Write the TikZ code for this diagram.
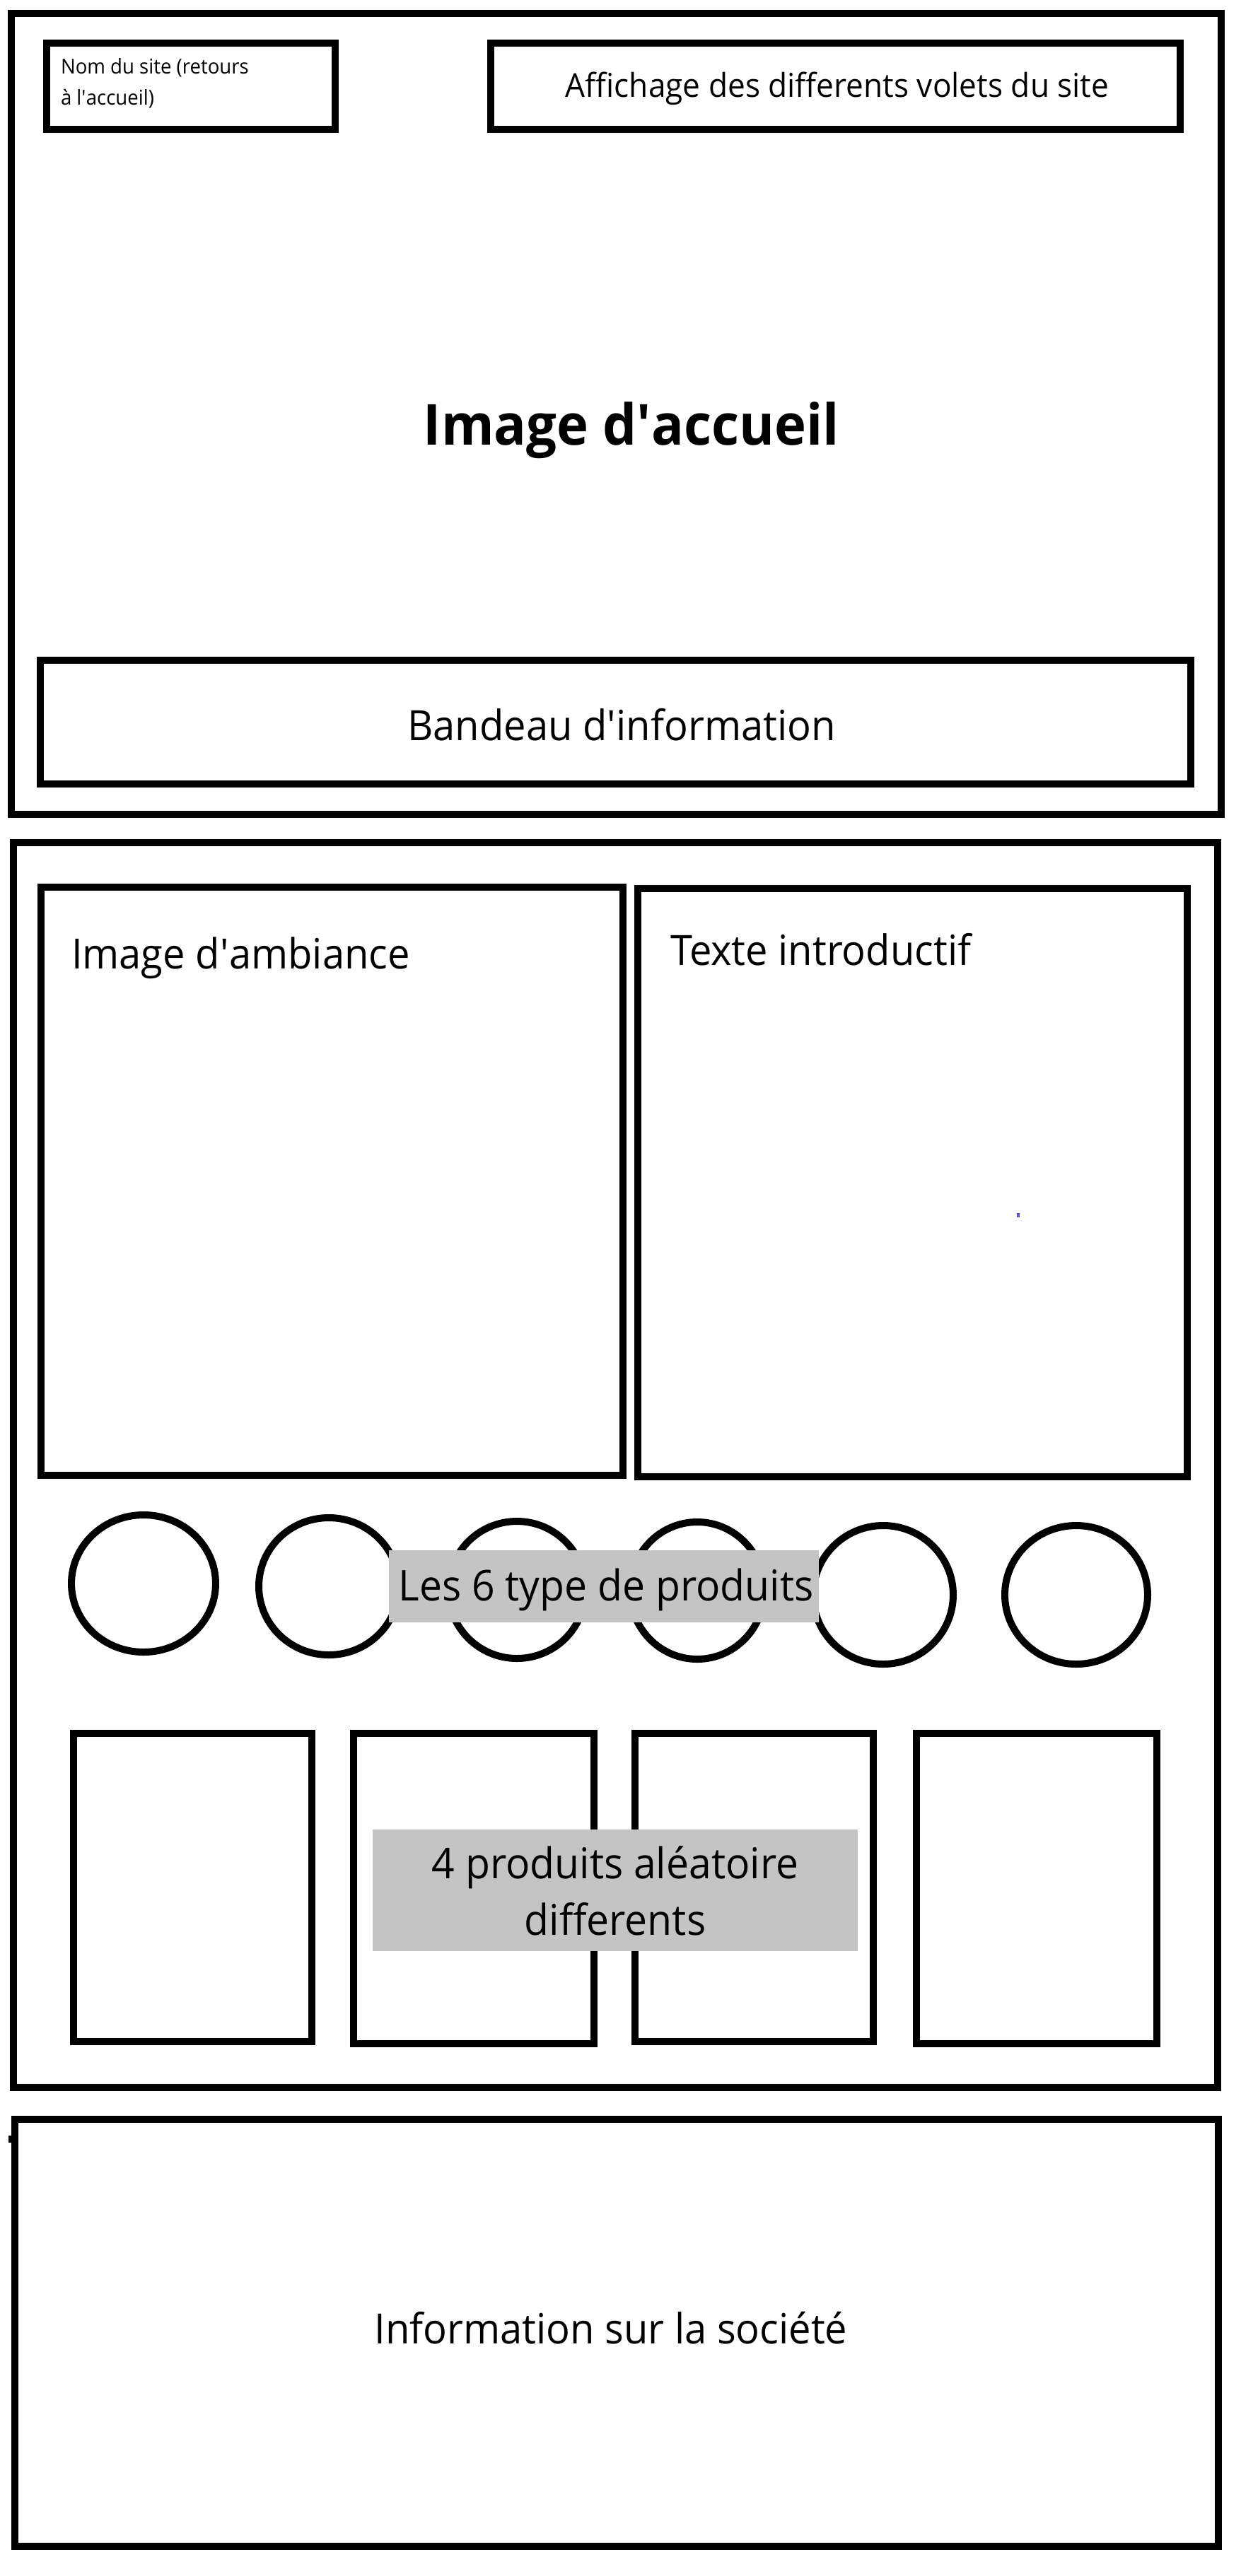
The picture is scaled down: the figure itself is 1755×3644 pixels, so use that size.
\documentclass[tikz,border=0pt]{standalone}
\usepackage{fontspec}
\setmainfont{Open Sans}[FakeStretch=0.95]
\usetikzlibrary{shapes.geometric}
\definecolor{labelgray}{HTML}{C4C4C4}
\definecolor{dotblue}{HTML}{5A5AD0}
% font size given in drawing units (1 unit = 0.01cm)
\newcommand{\pxfont}[2]{\fontsize{#1\dimexpr0.28453pt\relax}{#2\dimexpr0.28453pt\relax}\selectfont}
\newcommand{\q}{\textquotesingle}
\tikzset{
  wh/.style 2 args={minimum width=#1*0.01cm, minimum height=#2*0.01cm},
  frame/.style={draw=black, line width=0.1cm, fill=none, inner sep=0pt, outer sep=0pt, rectangle},
  disc/.style={draw=black, line width=0.1cm, ellipse, inner sep=0pt, outer sep=0pt},
  graylabel/.style={fill=labelgray, draw=none, inner sep=0pt, outer sep=0pt, rectangle},
  txt/.style={inner sep=0pt, outer sep=0pt, text=black},
}
\begin{document}
\begin{tikzpicture}[x=0.01cm, y=-0.01cm]
  \useasboundingbox[fill=white] (0,0) rectangle (1755,3644);

  % ---------- header ----------
  \node[frame, wh={1711}{1133}] (header) at (871.5,585.5) {};
  \node[frame, wh={408}{122}] (nom) at (270,122) {};
  \node[frame, wh={975}{122}] (menu) at (1181.5,122) {};
  \node[frame, wh={1627}{175}] (bandeau) at (870.5,1021.5) {};

  \node[txt, anchor=base west, align=left, font=\pxfont{29}{43}] (nomtxt) at (86,148)
    {Nom du site (retours\\à l\q accueil)};
  \node[txt, anchor=base, font=\pxfont{46.5}{56}] (menutxt) at (1184,137) {Affichage des differents volets du site};
  \node[txt, anchor=base, font=\pxfont{80}{96}\bfseries] (accueil) at (893,629) {Image d\q accueil};
  \node[txt, anchor=base, font=\pxfont{59}{70}] (bandeautxt) at (879,1047) {Bandeau d\q information};

  % ---------- main section ----------
  \node[frame, wh={1703}{1761}] (main) at (870.5,2072.5) {};
  \node[frame, wh={823}{832}] (ambiance) at (469.5,1671) {};
  \node[frame, wh={777}{832}] (intro) at (1290.5,1673) {};
  \node[txt, anchor=base west, font=\pxfont{59}{70}] (ambiancetxt) at (101,1370) {Image d\q ambiance};
  \node[txt, anchor=base west, font=\pxfont{59}{70}] (introtxt) at (948,1365) {Texte introductif};
  \fill[dotblue] (1438,1716) rectangle (1442,1722);

  % six product types
  \node[disc, wh={204}{194}] (t1) at (203,2240) {};
  \node[disc, wh={198}{194}] (t2) at (465,2244) {};
  \node[disc, wh={194}{194}] (t3) at (731,2249) {};
  \node[disc, wh={190}{194}] (t4) at (986,2250) {};
  \node[disc, wh={198}{196}] (t5) at (1249,2256) {};
  \node[disc, wh={202}{196}] (t6) at (1522,2256) {};
  \node[graylabel, wh={608}{102}] (typesbg) at (854,2244) {};
  \node[txt, anchor=base, font=\pxfont{60}{70}] (typestxt) at (857,2264) {Les 6 type de produits};

  % four random products
  \node[frame, wh={337}{436}] (p1) at (272.5,2670) {};
  \node[frame, wh={340}{439}] (p2) at (670,2671.5) {};
  \node[frame, wh={337}{436}] (p3) at (1066.5,2670) {};
  \node[frame, wh={340}{439}] (p4) at (1466,2671.5) {};
  \node[graylabel, wh={686}{172}] (prodbg) at (869.5,2674) {};
  \node[txt, anchor=base, align=center, font=\pxfont{60}{79}] (prodtxt) at (870,2737)
    {4 produits aléatoire\\differents};

  % ---------- footer ----------
  \node[frame, wh={1702}{604}] (footer) at (872,3300) {};
  \fill[black] (12,3021) rectangle (17,3031);
  \node[txt, anchor=base, font=\pxfont{59}{70}] (footertxt) at (864,3315) {Information sur la société};
\end{tikzpicture}
\end{document}
